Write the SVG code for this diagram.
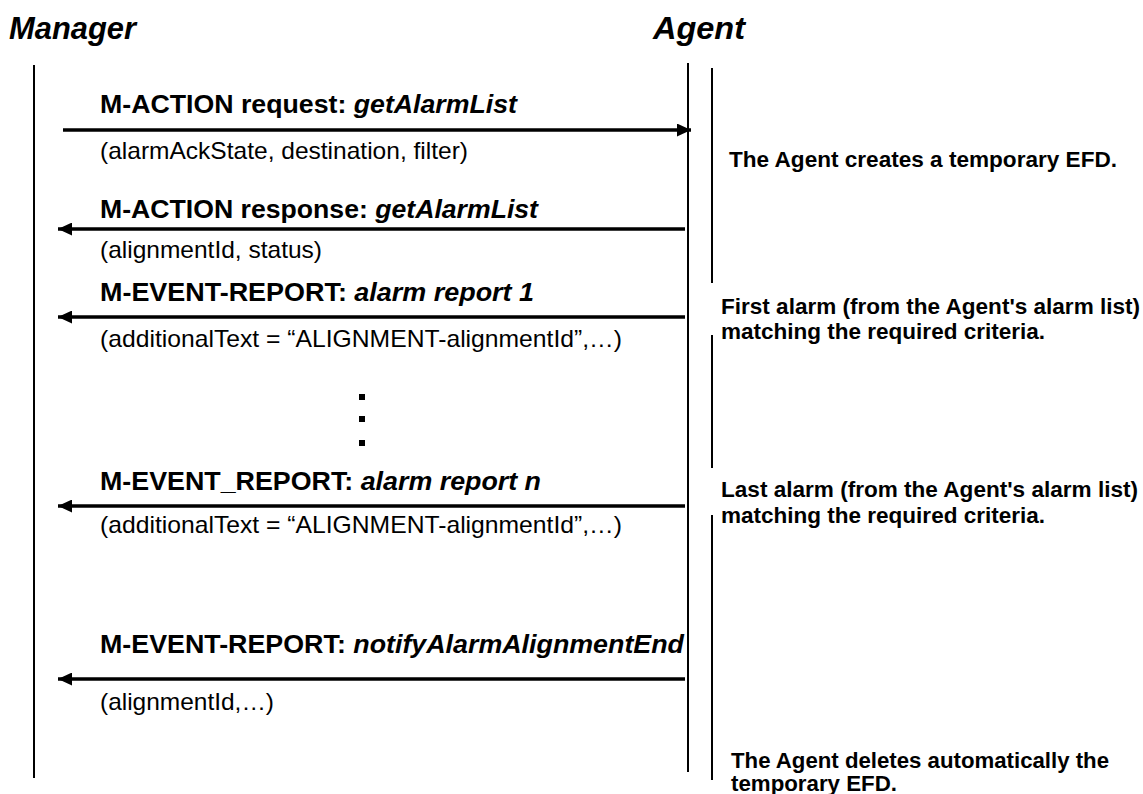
<svg xmlns="http://www.w3.org/2000/svg" width="1143" height="794" viewBox="0 0 1143 794">
<style>
text{font-family:"Liberation Sans",Arial,sans-serif;fill:#000}
.title{font-size:31px;font-weight:bold;font-style:italic}
.lbl{font-size:26px;font-weight:bold}
.lbl tspan{font-style:italic}
.sub{font-size:24px}
.note{font-size:22px;font-weight:bold}
.life{stroke:#000;stroke-width:2;fill:none}
.msg{stroke:#000;stroke-width:3.5;fill:none}
</style>
<defs>
<marker id="ah" viewBox="0 0 14 13" refX="14" refY="6.5" markerWidth="14" markerHeight="13" markerUnits="userSpaceOnUse" orient="auto">
<path d="M0,0 L14,6.5 L0,13 Z" fill="#000"/>
</marker>
</defs>
<rect width="1143" height="794" fill="#fff"/>
<g id="manager">
<text class="title" x="9" y="39" textLength="127" lengthAdjust="spacingAndGlyphs">Manager</text>
<line class="life" x1="34" y1="65" x2="34" y2="778"/>
</g>
<g id="agent">
<text class="title" x="653" y="39" textLength="92" lengthAdjust="spacingAndGlyphs">Agent</text>
<line class="life" x1="688" y1="63" x2="688" y2="772"/>
<line class="life" x1="712" y1="68" x2="712" y2="283"/>
<line class="life" x1="712" y1="335" x2="712" y2="468"/>
<line class="life" x1="712" y1="515" x2="712" y2="780"/>
</g>
<g id="connectors">
<line class="msg" x1="63" y1="130" x2="691" y2="130" marker-end="url(#ah)"/>
<line class="msg" x1="685" y1="229" x2="58" y2="229" marker-end="url(#ah)"/>
<line class="msg" x1="685" y1="317" x2="58" y2="317" marker-end="url(#ah)"/>
<line class="msg" x1="685" y1="506" x2="58" y2="506" marker-end="url(#ah)"/>
<line class="msg" x1="685" y1="679" x2="58" y2="679" marker-end="url(#ah)"/>
</g>
<g id="msg1">
<text class="lbl" x="100" y="113" textLength="417" lengthAdjust="spacingAndGlyphs">M-ACTION request: <tspan>getAlarmList</tspan></text>
<text class="sub" x="100" y="159" textLength="368" lengthAdjust="spacingAndGlyphs">(alarmAckState, destination, filter)</text>
</g>
<g id="msg2">
<text class="lbl" x="100" y="218" textLength="438" lengthAdjust="spacingAndGlyphs">M-ACTION response: <tspan>getAlarmList</tspan></text>
<text class="sub" x="100" y="258" textLength="222" lengthAdjust="spacingAndGlyphs">(alignmentId, status)</text>
</g>
<g id="msg3">
<text class="lbl" x="100" y="301" textLength="434" lengthAdjust="spacingAndGlyphs">M-EVENT-REPORT: <tspan>alarm report 1</tspan></text>
<text class="sub" x="100" y="347" textLength="522" lengthAdjust="spacingAndGlyphs">(additionalText = “ALIGNMENT-alignmentId”,…)</text>
</g>
<g id="ellipsis">
<rect x="359" y="394" width="6" height="6"/>
<rect x="359" y="416" width="6" height="6"/>
<rect x="359" y="440" width="6" height="6"/>
</g>
<g id="msgn">
<text class="lbl" x="100" y="490" textLength="441" lengthAdjust="spacingAndGlyphs">M-EVENT_REPORT: <tspan>alarm report n</tspan></text>
<text class="sub" x="100" y="533" textLength="522" lengthAdjust="spacingAndGlyphs">(additionalText = “ALIGNMENT-alignmentId”,…)</text>
</g>
<g id="msgend">
<text class="lbl" x="100" y="653" textLength="584" lengthAdjust="spacingAndGlyphs">M-EVENT-REPORT: <tspan>notifyAlarmAlignmentEnd</tspan></text>
<text class="sub" x="100" y="710" textLength="174" lengthAdjust="spacingAndGlyphs">(alignmentId,…)</text>
</g>
<g id="note1">
<text class="note" x="729" y="167" textLength="388" lengthAdjust="spacingAndGlyphs">The Agent creates a temporary EFD.</text>
</g>
<g id="note2">
<text class="note" x="721" y="314" textLength="419" lengthAdjust="spacingAndGlyphs">First alarm (from the Agent's alarm list)</text>
<text class="note" x="721" y="339" textLength="324" lengthAdjust="spacingAndGlyphs">matching the required criteria.</text>
</g>
<g id="note3">
<text class="note" x="721" y="497" textLength="417" lengthAdjust="spacingAndGlyphs">Last alarm (from the Agent's alarm list)</text>
<text class="note" x="721" y="523" textLength="324" lengthAdjust="spacingAndGlyphs">matching the required criteria.</text>
</g>
<g id="note4">
<text class="note" x="731" y="768" textLength="378" lengthAdjust="spacingAndGlyphs">The Agent deletes automatically the</text>
<text class="note" x="731" y="791" textLength="166" lengthAdjust="spacingAndGlyphs">temporary EFD.</text>
</g>
</svg>
